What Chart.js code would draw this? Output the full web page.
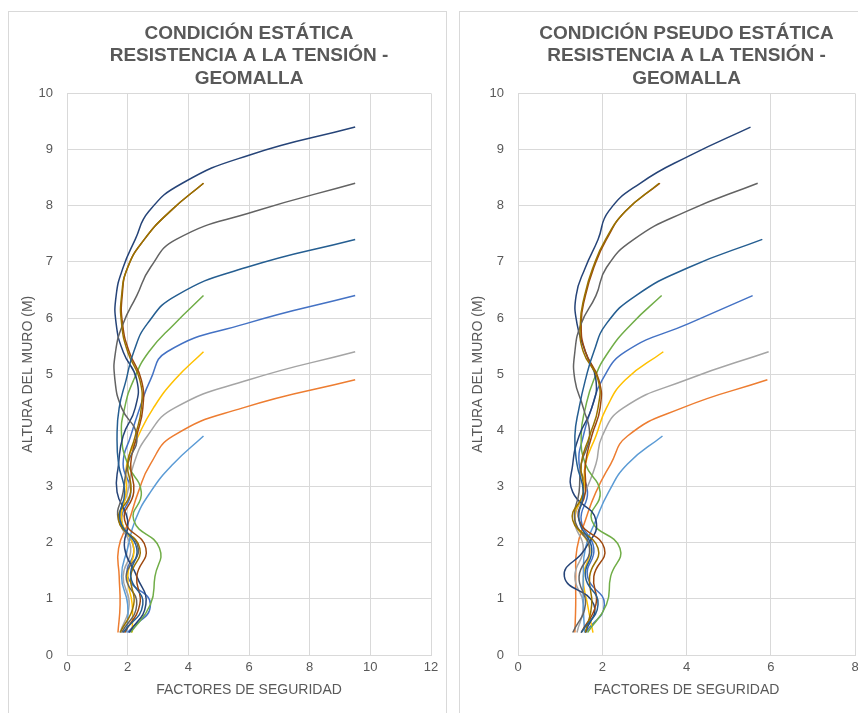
<!DOCTYPE html>
<html>
<head>
<meta charset="utf-8">
<script src="https://cdn.jsdelivr.net/npm/chart.js@4"></script>
<style>
html, body { margin: 0; padding: 0; background: #fff; width: 858px; height: 713px; overflow: hidden; }
.panel { position: absolute; border: 1px solid #d9d9d9; background: #fff; }
#p1 { left: 8px; top: 11px; width: 437px; height: 702px; }
#p2 { left: 459px; top: 11px; width: 440px; height: 702px; }
canvas { display: block; }
</style>
</head>
<body>
<div class="panel" id="p1"><canvas id="estatica" width="437" height="702"></canvas></div>
<div class="panel" id="p2"><canvas id="pseudo" width="440" height="702"></canvas></div>
<script>
// alturas del muro (m), de abajo hacia arriba
const alturas = [0.4, 0.9, 1.4, 1.9, 2.4, 2.9, 3.4, 3.9, 4.4, 4.9, 5.4, 5.9, 6.4, 6.9, 7.4, 7.9, 8.4, 8.9, 9.4];
const colores = ['#4472C4', '#ED7D31', '#A5A5A5', '#FFC000', '#5B9BD5', '#70AD47',
                 '#264478', '#9E480E', '#636363', '#997300', '#255E91'];

// condicion estatica - factores de seguridad por altura
const estAzul = [2.0, 2.75, 2.0, 2.2, 1.8, 2.1, 1.85, 2.1, 2.4, 2.75, 3.3, 5.9, 9.5];
const estNaranja = [1.68, 1.75, 1.72, 1.7, 2.05, 2.35, 2.75, 3.5, 5.8, 9.5];
const estGris = [1.75, 2.05, 1.85, 2.1, 1.75, 2.0, 2.2, 2.65, 3.55, 6.0, 9.5];
const estAmarillo = [2.15, 2.15, 2.0, 2.2, 1.8, 1.95, 1.97, 2.35, 2.85, 3.55, 4.5];
const estCeleste = [1.97, 2.0, 1.8, 2.0, 2.25, 2.75, 3.5, 4.5];
const estVerde = [2.1, 2.75, 2.9, 3.05, 2.2, 2.45, 2.0, 1.8, 1.9, 2.2, 2.7, 3.55, 4.5];
const estAzulOscuro = [2.05, 2.6, 2.3, 1.9, 2.0, 1.65, 1.7, 1.85, 2.25, 2.3, 1.85, 1.62, 1.62, 1.85, 2.25, 2.7, 3.8, 6.0, 9.5];
const estNaranjaOscuro = [1.9, 2.4, 2.3, 2.6, 1.9, 2.2, 2.1, 2.3, 2.5, 2.45, 2.05, 1.83, 1.82, 2.0, 2.55, 3.4, 4.5];
const estGrisOscuro = [1.8, 2.3, 1.95, 2.35, 1.7, 1.85, 2.0, 2.3, 1.8, 1.58, 1.6, 1.85, 2.3, 2.75, 3.6, 6.2, 9.5];
const estAmarilloOscuro = [1.75, 2.2, 2.1, 2.4, 1.7, 2.1, 2.0, 2.25, 2.45, 2.4, 2.0, 1.8, 1.8, 2.0, 2.55, 3.4, 4.5];
const estAcero = [1.85, 2.5, 2.1, 2.3, 1.75, 1.9, 1.7, 1.65, 1.72, 1.95, 2.2, 2.65, 3.6, 5.9, 9.5];

// condicion pseudo estatica
const psAzul = [1.6, 2.05, 1.65, 1.8, 1.5, 1.65, 1.45, 1.55, 1.75, 2.0, 2.55, 4.05, 5.57];
const psNaranja = [1.35, 1.37, 1.37, 1.4, 1.6, 1.85, 2.2, 2.6, 3.9, 5.92];
const psGris = [1.4, 1.55, 1.35, 1.55, 1.35, 1.6, 1.85, 2.0, 2.5, 4.0, 5.95];
const psAmarillo = [1.78, 1.65, 1.55, 1.7, 1.35, 1.55, 1.6, 1.85, 2.1, 2.55, 3.45];
const psCeleste = [1.58, 1.55, 1.55, 1.6, 1.85, 2.15, 2.6, 3.43];
const psVerde = [1.65, 2.1, 2.2, 2.42, 1.75, 1.95, 1.6, 1.5, 1.6, 1.8, 2.15, 2.7, 3.41];
const psAzulOscuro = [1.6, 1.8, 1.1, 1.6, 1.85, 1.3, 1.3, 1.45, 1.75, 1.85, 1.6, 1.4, 1.38, 1.6, 1.9, 2.15, 2.9, 4.1, 5.52];
const psNaranjaOscuro = [1.5, 1.85, 1.8, 2.05, 1.45, 1.6, 1.6, 1.75, 1.95, 1.92, 1.6, 1.5, 1.6, 1.8, 2.1, 2.55, 3.37];
const psGrisOscuro = [1.3, 1.6, 1.45, 1.7, 1.35, 1.45, 1.5, 1.7, 1.55, 1.35, 1.35, 1.5, 1.85, 2.1, 2.75, 4.0, 5.69];
const psAmarilloOscuro = [1.6, 1.75, 1.7, 1.9, 1.3, 1.55, 1.5, 1.7, 1.9, 1.9, 1.55, 1.48, 1.58, 1.78, 2.08, 2.55, 3.35];
const psAcero = [1.5, 1.9, 1.6, 1.75, 1.45, 1.55, 1.4, 1.35, 1.45, 1.6, 1.8, 2.1, 2.8, 4.05, 5.8];

const estaticaSeries = [estAzul, estNaranja, estGris, estAmarillo, estCeleste, estVerde,
    estAzulOscuro, estNaranjaOscuro, estGrisOscuro, estAmarilloOscuro, estAcero];
const pseudoSeries = [psAzul, psNaranja, psGris, psAmarillo, psCeleste, psVerde,
    psAzulOscuro, psNaranjaOscuro, psGrisOscuro, psAmarilloOscuro, psAcero];

const fuente = "'Liberation Sans', Arial, sans-serif";
const gris = '#595959';

function buildChart(id, titulo, series, xMax, padRight, yTitlePad) {
    const datasets = series.map((xs, i) => ({
        data: xs.map((x, j) => ({ x: x, y: alturas[j] })),
        borderColor: colores[i],
        backgroundColor: colores[i],
        borderWidth: 1.5,
        pointRadius: 0,
        showLine: true,
        tension: 0.5,
        order: series.length - i
    }));

    return new Chart(document.getElementById(id), {
        type: 'scatter',
        data: { datasets: datasets },
        options: {
            responsive: false,
            animation: false,
            layout: { padding: { left: 0, right: padRight, top: 0, bottom: 0 } },
            plugins: {
                legend: { display: false },
                tooltip: { enabled: false },
                title: {
                    display: true,
                    text: titulo,
                    fullSize: false,
                    color: gris,
                    font: { family: fuente, size: 19, weight: 'bold', lineHeight: 1.2 },
                    padding: { top: 10, bottom: 3 }
                }
            },
            scales: {
                x: {
                    type: 'linear',
                    min: 0,
                    max: xMax,
                    afterFit: function (scale) { scale.height = 59; },
                    ticks: { stepSize: 2, color: gris, padding: 5, font: { family: fuente, size: 13 } },
                    grid: { color: '#d9d9d9', drawTicks: false },
                    border: { color: '#d9d9d9' },
                    title: {
                        display: true,
                        text: 'FACTORES DE SEGURIDAD',
                        color: gris,
                        font: { family: fuente, size: 14 },
                        padding: { top: 0, bottom: 15 }
                    }
                },
                y: {
                    type: 'linear',
                    min: 0,
                    max: 10,
                    afterFit: function (scale) { scale.width = 58; },
                    ticks: { stepSize: 1, color: gris, padding: 14, font: { family: fuente, size: 13 } },
                    grid: { color: '#d9d9d9', drawTicks: false },
                    border: { color: '#d9d9d9' },
                    title: {
                        display: true,
                        text: 'ALTURA DEL MURO (M)',
                        color: gris,
                        font: { family: fuente, size: 14 },
                        padding: { top: yTitlePad, bottom: 0 }
                    }
                }
            }
        }
    });
}

buildChart('estatica', ['CONDICIÓN ESTÁTICA', 'RESISTENCIA A LA TENSIÓN -', 'GEOMALLA'],
    estaticaSeries, 12, 15, 11);
buildChart('pseudo', ['CONDICIÓN PSEUDO ESTÁTICA', 'RESISTENCIA A LA TENSIÓN -', 'GEOMALLA'],
    pseudoSeries, 8, 45, 10);
</script>
</body>
</html>
